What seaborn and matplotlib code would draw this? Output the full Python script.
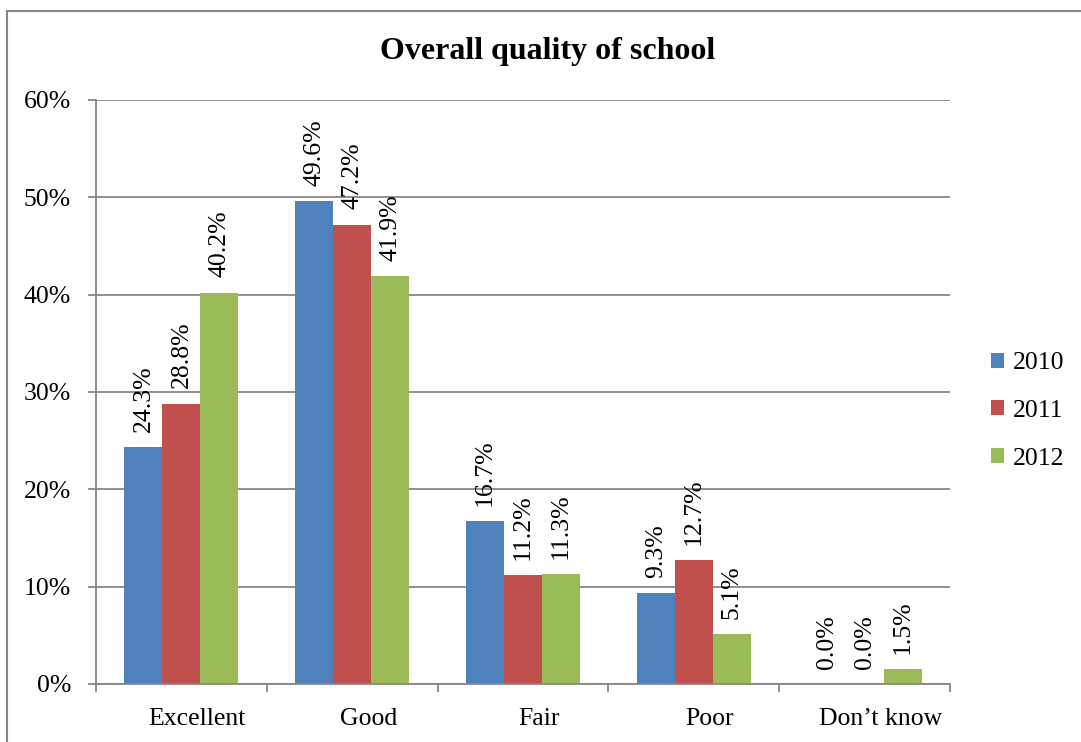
import pandas as pd
import seaborn as sns
import matplotlib.pyplot as plt
from matplotlib.lines import Line2D
from matplotlib.ticker import FuncFormatter, FixedLocator
from matplotlib.transforms import ScaledTranslation

categories = ["Excellent", "Good", "Fair", "Poor", "Don\u2019t know"]
years = ["2010", "2011", "2012"]
values_2010 = [24.3, 49.6, 16.7, 9.3, 0.0]
values_2011 = [28.8, 47.2, 11.2, 12.7, 0.0]
values_2012 = [40.2, 41.9, 11.3, 5.1, 1.5]
colors = ["#4F81BD", "#C0504D", "#9BBB59"]

rows = []
for year, vals in zip(years, [values_2010, values_2011, values_2012]):
    for cat, v in zip(categories, vals):
        rows.append({"category": cat, "year": year, "value": v})
df = pd.DataFrame(rows)

plt.rcParams["font.family"] = ["Liberation Serif", "DejaVu Serif"]
grid_color = "#878787"
fs = 18.5

fig = plt.figure(figsize=(10.81, 7.42), dpi=100)
ax = fig.add_axes([96 / 1081, 1 - 684 / 742, (950 - 96) / 1081, (684 - 100) / 742])

sns.barplot(data=df, x="category", y="value", hue="year", order=categories,
            hue_order=years, palette=colors, saturation=1, width=0.667,
            ax=ax, errorbar=None)

# data labels
for cont, vals in zip(ax.containers, [values_2010, values_2011, values_2012]):
    ax.bar_label(cont, labels=[f"{v:.1f}%" for v in vals], rotation=90,
                 padding=11, fontsize=fs)

ax.set_ylim(0, 60)
ax.set_xlim(-0.5, 4.5)
ax.set_yticks(range(0, 61, 10))
ax.yaxis.set_major_formatter(FuncFormatter(lambda v, p: f"{v:.0f}%"))
ax.yaxis.grid(True, color=grid_color, linewidth=1.3)
ax.set_axisbelow(True)

ax.xaxis.set_minor_locator(FixedLocator([i - 0.5 for i in range(6)]))
ax.tick_params(axis="x", which="major", length=0, pad=17, labelsize=fs)
ax.tick_params(axis="x", which="minor", length=6, width=1.3, color=grid_color)
ax.tick_params(axis="y", length=6, width=1.3, color=grid_color, pad=12, labelsize=fs)

# category labels sit a little right of the group centre, as in the original
shift = ScaledTranslation(16 / 100, 0, fig.dpi_scale_trans)
for lbl in ax.get_xticklabels():
    lbl.set_transform(lbl.get_transform() + shift)

for s in ["top", "right"]:
    ax.spines[s].set_visible(False)
for s in ["left", "bottom"]:
    ax.spines[s].set_color(grid_color)
    ax.spines[s].set_linewidth(1.3)

ax.set_xlabel("")
ax.set_ylabel("")

handles, labels = ax.get_legend_handles_labels()
ax.legend(handles, labels, loc="center left", bbox_to_anchor=(991 / 1081, 1 - 411 / 742),
          bbox_transform=fig.transFigure, frameon=False, fontsize=fs,
          handlelength=0.52, handleheight=0.52, handletextpad=0.35,
          labelspacing=1.0, borderpad=0, borderaxespad=0)

fig.text(548 / 1081, 1 - 52 / 742, "Overall quality of school", ha="center", va="center",
         fontsize=23, fontweight="bold")

# chart area border
fig.add_artist(Line2D([7 / 1081, 7 / 1081], [0, 1 - 10.5 / 742],
                      transform=fig.transFigure, color=grid_color, linewidth=1.5))
fig.add_artist(Line2D([7 / 1081, 1], [1 - 10.5 / 742, 1 - 10.5 / 742],
                      transform=fig.transFigure, color=grid_color, linewidth=1.5))

fig.savefig("out.png", dpi=100)
